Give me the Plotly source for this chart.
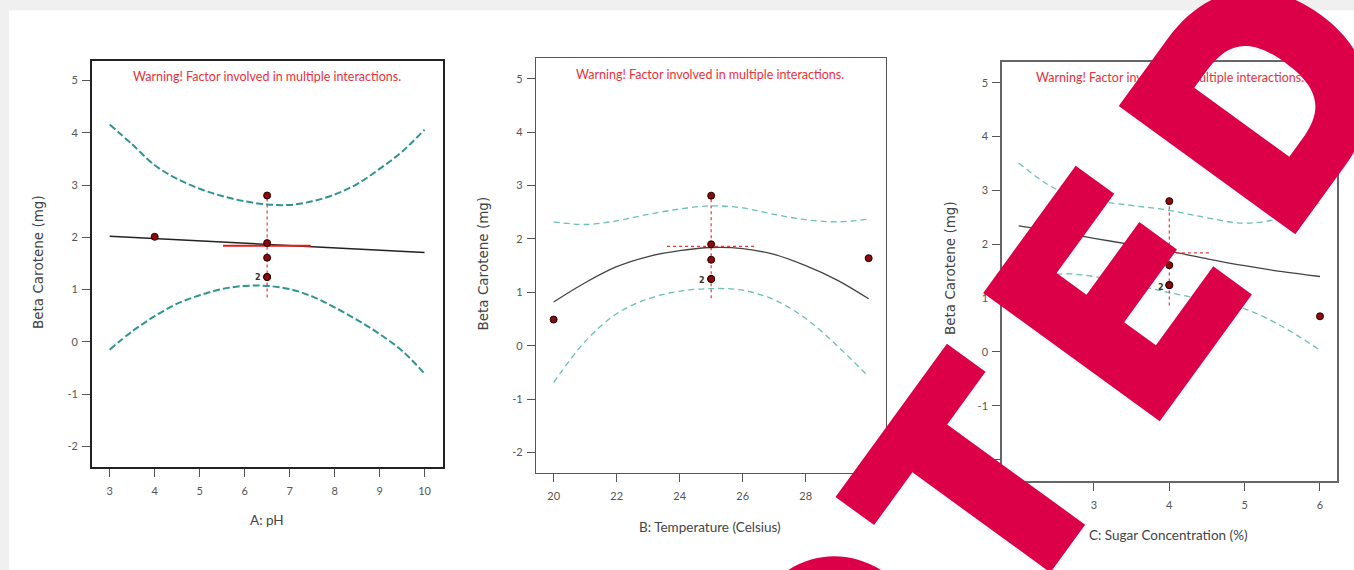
import math
import plotly.graph_objects as go

W, H = 1354, 570

# ---------------- data ----------------
# Panel A: pH
ph_pts_x = [4, 6.5, 6.5, 6.5, 6.5, 6.5]
ph_pts_y = [2.01, 2.80, 1.89, 1.61, 1.24, 1.24]
ph_fit_x = [3, 10]
ph_fit_y = [2.02, 1.71]
ph_grid = [3, 3.5, 4, 4.5, 5, 5.5, 6, 6.5, 7, 7.5, 8, 8.5, 9, 9.5, 10]
ph_upper = [4.16, 3.78, 3.38, 3.12, 2.93, 2.79, 2.69, 2.63, 2.62, 2.69, 2.82, 3.02, 3.31, 3.64, 4.06]
ph_lower = [-0.15, 0.20, 0.49, 0.73, 0.89, 1.01, 1.07, 1.07, 1.01, 0.87, 0.66, 0.42, 0.15, -0.17, -0.61]
ph_bar_x = 6.5
ph_bar_y = [0.85, 2.80]
ph_lsd_x = [5.52, 7.47]
ph_lsd_y = 1.84
ph_rep = (6.30, 1.23)

# Panel B: Temperature
tp_pts_x = [20, 25, 25, 25, 25, 25, 30]
tp_pts_y = [0.49, 2.81, 1.90, 1.61, 1.25, 1.25, 1.64]
tp_grid = [20, 21, 22, 23, 24, 25, 26, 27, 28, 29, 30]
tp_fit = [0.82, 1.18, 1.48, 1.67, 1.78, 1.84, 1.82, 1.71, 1.50, 1.23, 0.88]
tp_upper = [2.32, 2.27, 2.34, 2.46, 2.56, 2.62, 2.58, 2.46, 2.36, 2.32, 2.37]
tp_lower = [-0.69, 0.08, 0.60, 0.88, 1.02, 1.07, 1.04, 0.86, 0.51, 0.00, -0.58]
tp_bar_x = 25
tp_bar_y = [0.89, 2.81]
tp_lsd_x = [23.6, 26.38]
tp_lsd_y = 1.86
tp_rep = (24.70, 1.22)

# Panel C: Sugar concentration
sg_pts_x = [4, 4, 4, 4, 4, 6]
sg_pts_y = [2.80, 1.90, 1.61, 1.24, 1.24, 0.66]
sg_grid = [2, 2.5, 3, 3.5, 4, 4.5, 5, 5.5, 6]
sg_fit = [2.34, 2.23, 2.11, 1.99, 1.87, 1.73, 1.60, 1.49, 1.40]
sg_upper = [3.51, 3.02, 2.82, 2.72, 2.63, 2.49, 2.39, 2.49, 2.77]
sg_lower = [1.20, 1.44, 1.40, 1.26, 1.10, 0.96, 0.80, 0.47, 0.03]
sg_bar_x = 4
sg_bar_y = [0.86, 2.80]
sg_lsd_x = [3.45, 4.55]
sg_lsd_y = 1.84
sg_rep = (3.89, 1.20)

y_ticks = [-2, -1, 0, 1, 2, 3, 4, 5]
y_tick_text = ["-2", "-1", "0", "1", "2", "3", "4", "5"]
ph_ticks = [3, 4, 5, 6, 7, 8, 9, 10]
tp_ticks = [20, 22, 24, 26, 28, 30]
sg_ticks = [2, 3, 4, 5, 6]

warning = "Warning! Factor involved in multiple interactions."
x_titles = ["A: pH", "B: Temperature (Celsius)", "C: Sugar Concentration (%)"]
y_title = "Beta Carotene (mg)"
stamp = "RETRACTED"


def px(x):
    return x / W


def py(y):
    return 1 - y / H


# ---------------- styles per panel ----------------
panels = [
    dict(pts=(ph_pts_x, ph_pts_y), fit=(ph_fit_x, ph_fit_y), grid=ph_grid, up=ph_upper, lo=ph_lower,
         bar_x=ph_bar_x, bar_y=ph_bar_y, lsd_x=ph_lsd_x, lsd_y=ph_lsd_y, rep=ph_rep,
         band_col="#2f9590", band_w=2.0, band_dash="7px,3px",
         fit_col="#222222", fit_w=1.6, lsd_dash="solid", lsd_w=2.0, lsd_col="#e0201c",
         frame_col="#222222", frame_w=1.8,
         dom_x=(92, 443), dom_y=(61, 467), xr=(2.607, 10.41), yr=(-2.396, 5.375), ticks=ph_ticks,
         warn=(267, 77), xt=(267, 520), yt=(38, 262)),
    dict(pts=(tp_pts_x, tp_pts_y), fit=(tp_grid, tp_fit), grid=tp_grid, up=tp_upper, lo=tp_lower,
         bar_x=tp_bar_x, bar_y=tp_bar_y, lsd_x=tp_lsd_x, lsd_y=tp_lsd_y, rep=tp_rep,
         band_col="#6dbfb8", band_w=1.3, band_dash="6px,4px",
         fit_col="#444444", fit_w=1.3, lsd_dash="dot", lsd_w=1.3, lsd_col="#e23a3a",
         frame_col="#555555", frame_w=1.3,
         dom_x=(536, 886), dom_y=(58, 473), xr=(19.44, 30.55), yr=(-2.383, 5.388), ticks=tp_ticks,
         warn=(710, 74.5), xt=(710, 527), yt=(482, 263.5)),
    dict(pts=(sg_pts_x, sg_pts_y), fit=(sg_grid, sg_fit), grid=sg_grid, up=sg_upper, lo=sg_lower,
         bar_x=sg_bar_x, bar_y=sg_bar_y, lsd_x=sg_lsd_x, lsd_y=sg_lsd_y, rep=sg_rep,
         band_col="#6dbfb8", band_w=1.3, band_dash="6px,4px",
         fit_col="#444444", fit_w=1.3, lsd_dash="dot", lsd_w=1.3, lsd_col="#e23a3a",
         frame_col="#666666", frame_w=1.5,
         dom_x=(1002, 1337), dom_y=(62, 481), xr=(1.779, 6.226), yr=(-2.40, 5.385), ticks=sg_ticks,
         warn=(1170, 78), xt=(1168, 535), yt=(950, 268)),
]

fig = go.Figure()
annotations = []
layout_axes = {}

for i, p in enumerate(panels):
    n = "" if i == 0 else str(i + 1)
    xa, ya = "x" + n, "y" + n
    # confidence bands
    for band in (p["up"], p["lo"]):
        fig.add_trace(go.Scatter(x=p["grid"], y=band, xaxis=xa, yaxis=ya, mode="lines",
                                 line=dict(color=p["band_col"], width=p["band_w"], dash=p["band_dash"],
                                           shape="spline"),
                                 hoverinfo="skip", showlegend=False))
    # fitted line
    fig.add_trace(go.Scatter(x=p["fit"][0], y=p["fit"][1], xaxis=xa, yaxis=ya, mode="lines",
                             line=dict(color=p["fit_col"], width=p["fit_w"], shape="spline"),
                             showlegend=False))
    # red vertical error bar
    fig.add_trace(go.Scatter(x=[p["bar_x"], p["bar_x"]], y=p["bar_y"], xaxis=xa, yaxis=ya, mode="lines",
                             line=dict(color="#e23a3a", width=1.2, dash="dot"), showlegend=False))
    # red horizontal LSD bar
    fig.add_trace(go.Scatter(x=p["lsd_x"], y=[p["lsd_y"], p["lsd_y"]], xaxis=xa, yaxis=ya, mode="lines",
                             line=dict(color=p["lsd_col"], width=p["lsd_w"], dash=p["lsd_dash"]),
                             showlegend=False))
    # design points
    fig.add_trace(go.Scatter(x=p["pts"][0], y=p["pts"][1], xaxis=xa, yaxis=ya, mode="markers",
                             marker=dict(size=7, color="#8b0a0a", line=dict(color="#2a0000", width=1)),
                             showlegend=False))

    ax_common = dict(showline=True, mirror=True, linecolor=p["frame_col"], linewidth=p["frame_w"],
                     ticks="outside", ticklen=8, tickwidth=1, tickcolor="#555555",
                     showgrid=False, zeroline=False,
                     tickfont=dict(family="Lato", size=11, color="#555555"))
    layout_axes["xaxis" + n] = dict(ax_common, domain=[px(p["dom_x"][0]), px(p["dom_x"][1])],
                                    range=list(p["xr"]), anchor=ya, tickvals=p["ticks"],
                                    ticklabelstandoff=5)
    layout_axes["yaxis" + n] = dict(ax_common, domain=[py(p["dom_y"][1]), py(p["dom_y"][0])],
                                    range=list(p["yr"]), anchor=xa, tickvals=y_ticks,
                                    ticktext=y_tick_text, ticklabelstandoff=2)

    annotations.append(dict(text=warning, x=px(p["warn"][0]), y=py(p["warn"][1]), xref="paper", yref="paper",
                            showarrow=False, font=dict(family="Lato", size=12.5, color="#e8323c"),
                            xanchor="center", yanchor="middle"))
    annotations.append(dict(text=x_titles[i], x=px(p["xt"][0]), y=py(p["xt"][1]), xref="paper", yref="paper",
                            showarrow=False, font=dict(family="Lato", size=13.5, color="#444444"),
                            xanchor="center", yanchor="middle"))
    annotations.append(dict(text=y_title, x=px(p["yt"][0]), y=py(p["yt"][1]), xref="paper", yref="paper",
                            showarrow=False, textangle=-90,
                            font=dict(family="DejaVu Sans", size=13.5, color="#444444"),
                            xanchor="center", yanchor="middle"))
    annotations.append(dict(text="2", x=p["rep"][0], y=p["rep"][1], xref=xa, yref=ya, showarrow=False,
                            font=dict(family="DejaVu Sans", size=8, color="#333333", weight="bold"),
                            xanchor="center", yanchor="middle"))

# RETRACTED stamp: letters set along a baseline tilted 54 degrees up to the right.
# Only the letters that reach into the page are drawn (the rest lie wholly outside it).
ang = math.radians(54)
dx, dy = math.cos(ang), -math.sin(ang)          # along the baseline (screen px)
origin = (918.6, 567.1)                          # mid-cap point where the 7th letter starts
letter_s = [-1326, -1086, -846, -606, -366, -126.5, 102.5, 338, 585]
for ch, s in zip(stamp, letter_s):
    cx, cy = origin[0] + s * dx, origin[1] + s * dy
    if not (-150 < cx < W + 150 and -150 < cy < H + 150):
        continue
    annotations.append(dict(text=ch, x=px(cx), y=py(cy), xref="paper", yref="paper", showarrow=False,
                            textangle=-54, xanchor="center", yanchor="middle",
                            font=dict(family="Inter", size=300, color="#dc0049", weight=900)))

fig.update_layout(
    width=W, height=H, autosize=False,
    margin=dict(l=0, r=0, t=0, b=0, pad=0),
    paper_bgcolor="#f0f0f0", plot_bgcolor="#ffffff",
    showlegend=False,
    annotations=annotations,
    shapes=[dict(type="rect", xref="paper", yref="paper", x0=px(9), x1=1, y0=0, y1=py(10.5),
                 fillcolor="#ffffff", line=dict(width=0), layer="below")],
    **layout_axes,
)

fig.write_html("out.html", config={"displayModeBar": False},
               post_script="document.body.style.margin='0';")
